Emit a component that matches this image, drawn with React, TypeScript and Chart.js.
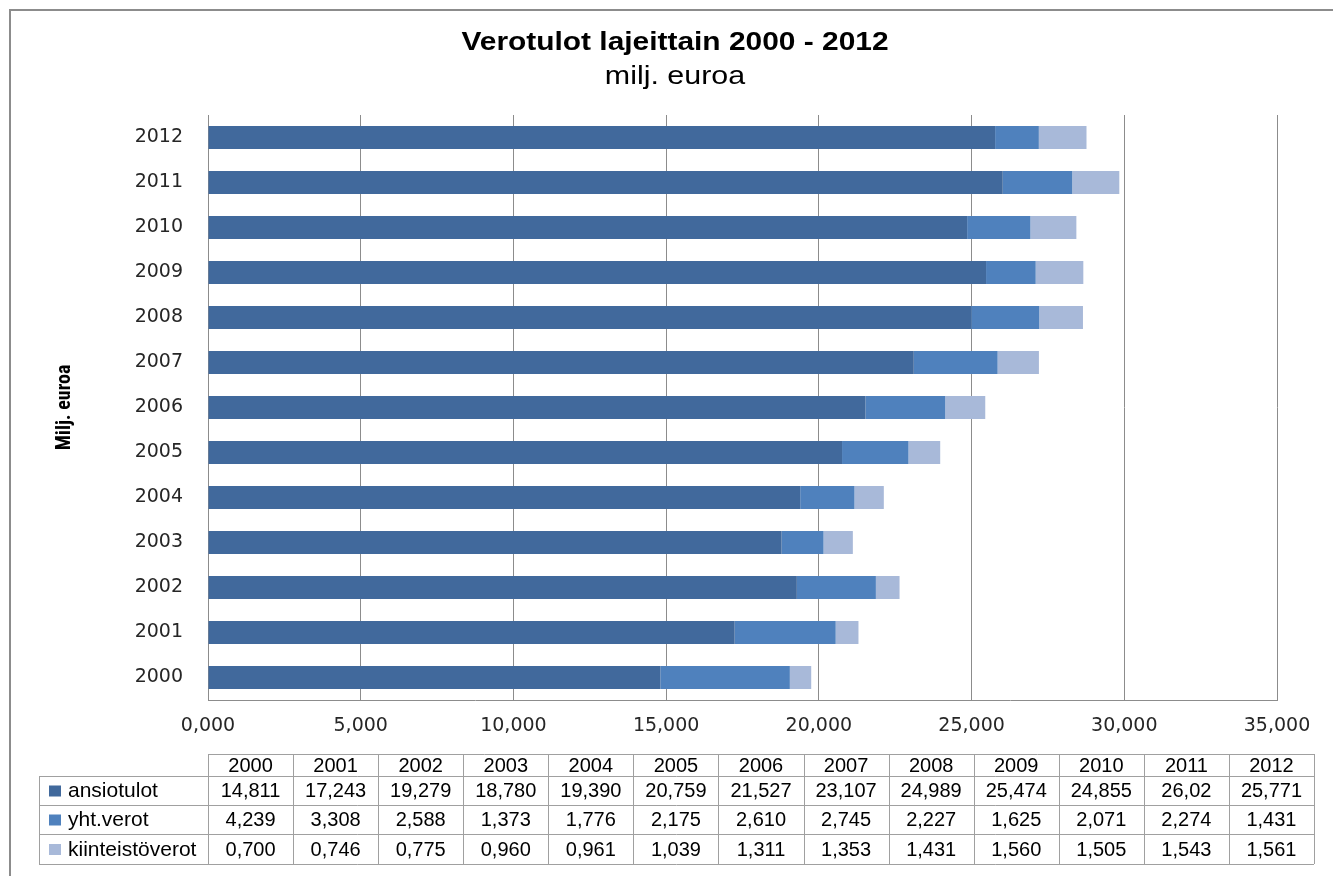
import React, { useEffect, useRef } from "react";
import { Chart, registerables } from "chart.js";

Chart.register(...registerables);

const years = ["2000", "2001", "2002", "2003", "2004", "2005", "2006", "2007", "2008", "2009", "2010", "2011", "2012"];
const seriesNames = ["ansiotulot", "yht.verot", "kiinteistöverot"];
const ansiotulotText = ["14,811", "17,243", "19,279", "18,780", "19,390", "20,759", "21,527", "23,107", "24,989", "25,474", "24,855", "26,02", "25,771"];
const yhtVerotText = ["4,239", "3,308", "2,588", "1,373", "1,776", "2,175", "2,610", "2,745", "2,227", "1,625", "2,071", "2,274", "1,431"];
const kiinteistoText = ["0,700", "0,746", "0,775", "0,960", "0,961", "1,039", "1,311", "1,353", "1,431", "1,560", "1,505", "1,543", "1,561"];
const seriesColors = ["#41699c", "#4f81bd", "#a8b9d9"];
const xMax = 35;
const xStep = 5;
const titleText = "Verotulot lajeittain 2000 - 2012";
const subtitleText = "milj. euroa";
const yAxisTitle = "Milj. euroa";

const toNum = (s: string) => parseFloat(s.replace(",", "."));
const ansiotulot = ansiotulotText.map(toNum);
const yhtVerot = yhtVerotText.map(toNum);
const kiinteisto = kiinteistoText.map(toNum);
const tableTexts = [ansiotulotText, yhtVerotText, kiinteistoText];

const NARROW = "'Liberation Sans Narrow','Arial Narrow','Roboto Condensed',sans-serif";
const SANS = "'Liberation Sans',Arial,sans-serif";
const TICK = "'DejaVu Sans',Verdana,sans-serif";

function stretchedText(ctx: CanvasRenderingContext2D, text: string, x: number, y: number, sx: number) {
  ctx.save();
  ctx.translate(x, y);
  ctx.scale(sx, 1);
  ctx.fillText(text, 0, 0);
  ctx.restore();
}

const decorPlugin = {
  id: "decor",
  afterDraw(chart: any) {
    const ctx = chart.ctx as CanvasRenderingContext2D;
    ctx.save();
    // outer frame
    ctx.strokeStyle = "#8c8c8c";
    ctx.lineWidth = 2;
    ctx.strokeRect(10, 10, 1400, 1000);
    // title
    ctx.fillStyle = "#000";
    ctx.textAlign = "center";
    ctx.textBaseline = "alphabetic";
    ctx.font = `bold 26px ${SANS}`;
    stretchedText(ctx, titleText, 675, 50, 1.15);
    ctx.font = `26px ${SANS}`;
    stretchedText(ctx, subtitleText, 675, 84, 1.17);

    // data table
    const colLeft = 208;
    const colRight = 1314;
    const legLeft = 39;
    const colW = (colRight - colLeft) / years.length;
    const rowsY = [754, 776, 805, 834, 864];
    ctx.strokeStyle = "#a0a0a0";
    ctx.lineWidth = 1;
    ctx.beginPath();
    ctx.moveTo(colLeft, rowsY[0] + 0.5);
    ctx.lineTo(colRight, rowsY[0] + 0.5);
    for (let r = 1; r < rowsY.length; r++) {
      ctx.moveTo(legLeft, rowsY[r] + 0.5);
      ctx.lineTo(colRight, rowsY[r] + 0.5);
    }
    ctx.moveTo(legLeft + 0.5, rowsY[1]);
    ctx.lineTo(legLeft + 0.5, rowsY[4]);
    for (let c = 0; c <= years.length; c++) {
      const x = Math.round(colLeft + c * colW) + 0.5;
      ctx.moveTo(x, rowsY[0]);
      ctx.lineTo(x, rowsY[4]);
    }
    ctx.stroke();

    ctx.textBaseline = "middle";
    ctx.font = `20px ${SANS}`;
    ctx.fillStyle = "#000";
    ctx.textAlign = "center";
    years.forEach((y, i) => {
      ctx.fillText(y, colLeft + (i + 0.5) * colW, (rowsY[0] + rowsY[1]) / 2 + 1);
    });
    tableTexts.forEach((row, r) => {
      const cy = (rowsY[r + 1] + rowsY[r + 2]) / 2 + 1;
      ctx.font = `20px ${SANS}`;
      ctx.textAlign = "center";
      ctx.fillStyle = "#000";
      row.forEach((t, i) => {
        ctx.fillText(t, colLeft + (i + 0.5) * colW, cy);
      });
      ctx.fillStyle = seriesColors[r];
      ctx.fillRect(49, cy - 6, 12, 11);
      ctx.fillStyle = "#000";
      ctx.textAlign = "left";
      ctx.font = `21px ${SANS}`;
      ctx.fillText(seriesNames[r], 68, cy);
    });
    ctx.restore();
  },
};

export default function App() {
  const ref = useRef<HTMLCanvasElement | null>(null);
  useEffect(() => {
    if (!ref.current) return;
    const chart = new Chart(ref.current, {
      type: "bar",
      data: {
        labels: years,
        datasets: [
          { label: seriesNames[0], data: ansiotulot, backgroundColor: seriesColors[0] },
          { label: seriesNames[1], data: yhtVerot, backgroundColor: seriesColors[1] },
          { label: seriesNames[2], data: kiinteisto, backgroundColor: seriesColors[2] },
        ],
      },
      options: {
        indexAxis: "y",
        responsive: false,
        animation: false,
        devicePixelRatio: 1,
        categoryPercentage: 1,
        barPercentage: 0.51,
        layout: { padding: { left: 0, top: 115, right: 56, bottom: 136 } },
        plugins: {
          legend: { display: false },
          tooltip: { enabled: false },
          title: { display: false },
        },
        scales: {
          x: {
            stacked: true,
            min: 0,
            max: xMax,
            ticks: {
              stepSize: xStep,
              padding: 15,
              color: "#262626",
              font: { family: TICK, size: 19 },
              callback: (v: any) => Number(v).toFixed(3).replace(".", ","),
              maxRotation: 0,
            },
            grid: { color: "#8c8c8c", drawTicks: false },
            border: { color: "#8c8c8c" },
            afterFit: (s: any) => {
              s.height = 40;
            },
          },
          y: {
            stacked: true,
            reverse: true,
            ticks: {
              padding: 25,
              color: "#262626",
              font: { family: TICK, size: 19 },
            },
            grid: { display: false, drawTicks: false },
            border: { display: true, color: "#8c8c8c" },
            title: {
              display: true,
              text: yAxisTitle,
              color: "#000",
              font: { family: NARROW, size: 20, weight: "bold" },
              padding: { top: 53, bottom: 0 },
            },
            afterFit: (s: any) => {
              s.width = 208;
            },
          },
        },
      },
      plugins: [decorPlugin],
    });
    return () => chart.destroy();
  }, []);
  return (
    <div style={{ position: "absolute", left: 0, top: 0, width: 1333, height: 876, background: "#fff" }}>
      <canvas ref={ref} width={1333} height={876} />
    </div>
  );
}
